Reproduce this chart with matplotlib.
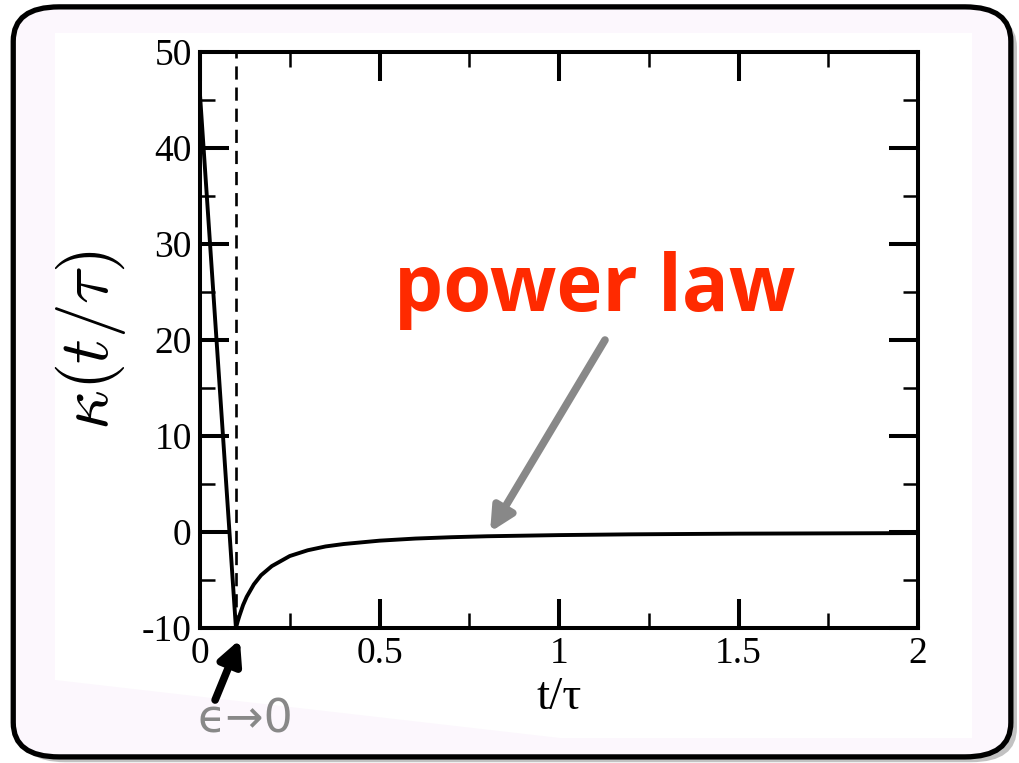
import matplotlib.pyplot as plt
from matplotlib.patches import FancyBboxPatch, Rectangle, Polygon
from matplotlib.ticker import MultipleLocator

plt.rcParams["axes.unicode_minus"] = False
plt.rcParams["mathtext.fontset"] = "cm"

# ---- data ----
# linear drop from t=0 to the cutoff epsilon
drop_t = [0.0, 0.1]
drop_k = [45.5, -10.0]

# power-law branch after the cutoff
pl_t = [0.1, 0.105, 0.11, 0.12, 0.13, 0.15, 0.17, 0.2, 0.25, 0.3, 0.35,
        0.4, 0.5, 0.6, 0.7, 0.8, 1.0, 1.2, 1.5, 2.0]
pl_k = [-10.0, -9.3, -8.7, -7.6, -6.75, -5.45, -4.5, -3.55, -2.5, -1.9,
        -1.5, -1.25, -0.9, -0.68, -0.54, -0.44, -0.32, -0.24, -0.17, -0.11]

eps_t = 0.1
xticks = [0, 0.5, 1, 1.5, 2]
xtick_labels = ["0", "0.5", "1", "1.5", "2"]
yticks = [-10, 0, 10, 20, 30, 40, 50]

W, H = 1019, 763
fig = plt.figure(figsize=(W / 100, H / 100), dpi=100)

# rounded slide-style frame (shadow + body + white panel)
fig.patches.append(FancyBboxPatch((0.019, 0.001), 0.979, 0.982,
                                  boxstyle="round,pad=0,rounding_size=0.045",
                                  transform=fig.transFigure, facecolor="#9a9a9a",
                                  edgecolor="none", alpha=0.6, zorder=-2))
fig.patches.append(FancyBboxPatch((0.013, 0.008), 0.979, 0.983,
                                  boxstyle="round,pad=0,rounding_size=0.045",
                                  transform=fig.transFigure, facecolor="#fcf7fd",
                                  edgecolor="black", linewidth=3.8, zorder=-1))
fig.patches.append(Rectangle((55 / W, 1 - 738 / H), 917 / W, 705 / H,
                             transform=fig.transFigure,
                             facecolor="white", edgecolor="none", zorder=-0.5))
fig.patches.append(Polygon([(55 / W, 1 - 680 / H), (55 / W, 1 - 738 / H),
                            (560 / W, 1 - 738 / H)], closed=True,
                           transform=fig.transFigure, facecolor="#fcf7fd",
                           edgecolor="none", zorder=-0.4))

ax = fig.add_axes([0.1963, 0.1769, 0.7046, 0.7549])
ax.set_zorder(1)
ax.set_facecolor("white")

ax.plot(drop_t, drop_k, color="black", lw=2.8, solid_capstyle="butt")
ax.plot(pl_t, pl_k, color="black", lw=2.8)
ax.axvline(eps_t, color="black", lw=1.9, dashes=(5, 3))

ax.set_xlim(0, 2)
ax.set_ylim(-10, 50)
ax.set_xticks(xticks)
ax.set_xticklabels(xtick_labels)
ax.set_yticks(yticks)
ax.xaxis.set_minor_locator(MultipleLocator(0.25))
ax.yaxis.set_minor_locator(MultipleLocator(5))

for s in ax.spines.values():
    s.set_linewidth(2.9)
ax.tick_params(which="both", direction="in", top=True, right=True,
               labelfontfamily="Liberation Serif", labelsize=27)
ax.tick_params(which="major", length=21, width=2.9, pad=6)
ax.tick_params(which="minor", length=10.5, width=1.8)

ax.set_xlabel("t/τ", family="Liberation Serif", fontsize=34, labelpad=4)
ax.set_ylabel(r"$\kappa(t/\tau)$", fontsize=50, labelpad=10)

# annotations
ax.text(1.10, 25.2, "power law", color="#ff2a00", fontsize=56, fontweight="bold",
        family="Open Sans", ha="center", va="center")
ax.annotate("", xy=(0.808, 0.0), xytext=(1.128, 20.0),
            arrowprops=dict(arrowstyle="-|>,head_length=1.4,head_width=0.7",
                            color="#888888", lw=5.5, shrinkA=0, shrinkB=0))
ax.annotate("", xy=(0.111, -11.2), xytext=(0.042, -17.5),
            annotation_clip=False,
            arrowprops=dict(arrowstyle="-|>,head_length=1.4,head_width=0.7",
                            color="black", lw=5.5, shrinkA=0, shrinkB=0))
fig.text(198 / W, 1 - 720 / H, "ϵ→0", color="#888888", fontsize=33,
         family="DejaVu Sans", ha="left", va="center")

fig.savefig("out.png", dpi=100)
